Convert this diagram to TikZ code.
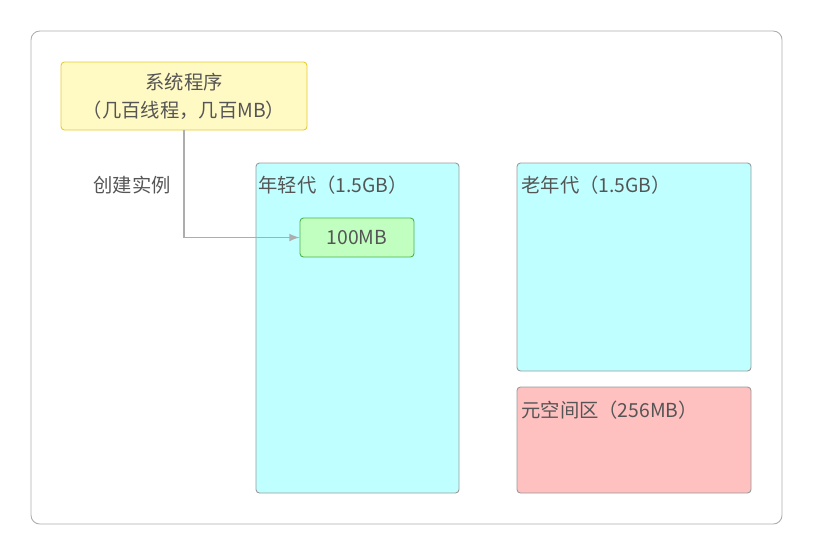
\documentclass[tikz,border=0pt]{standalone}
\usepackage{fontspec}
\setmainfont{Noto Sans CJK SC}
\usetikzlibrary{positioning,calc}
\definecolor{txtgray}{HTML}{555555}
\definecolor{linegray}{HTML}{999999}
\definecolor{aqua}{HTML}{C0FFFF}
\definecolor{pinkred}{HTML}{FFC0C0}
\definecolor{lightgreen}{HTML}{C0FFC0}
\definecolor{lightyellow}{HTML}{FFF9C4}
\tikzset{
  area/.style={draw=linegray,rounded corners=2pt,line width=0.5pt},
  lbl/.style={anchor=west,text=txtgray,font=\fontsize{11}{13}\selectfont,inner sep=0pt}
}
\begin{document}
\begin{tikzpicture}[x=0.02cm,y=-0.02cm]
\useasboundingbox (0,0) rectangle (813,555);
% frame
\draw[draw=linegray!80,rounded corners=5pt,line width=0.5pt] (31,31) rectangle (782,524);
% system program
\draw[area,fill=lightyellow,draw=yellow!60!brown] (61,62) rectangle (307,130);
\node[text=txtgray,font=\fontsize{11}{16}\selectfont,align=center] (sys) at (184,96) {系统程序\\（几百线程，几百MB）};
\coordinate (sysb) at (184,130);
% regions
\draw[area,fill=aqua] (256,163) rectangle (459,493);
\node[lbl] (young) at (258,185) {年轻代（1.5GB）};
\draw[area,fill=aqua] (517,163) rectangle (751,371);
\node[lbl] (old) at (521,185) {老年代（1.5GB）};
\draw[area,fill=pinkred] (517,387) rectangle (751,493);
\node[lbl] (meta) at (521,410) {元空间区（256MB）};
% instance
\node[area,fill=lightgreen,draw=green!40!gray,minimum width=114*0.02cm,minimum height=39*0.02cm,text=txtgray,font=\fontsize{11}{13}\selectfont,inner sep=0pt] (inst) at (357,237.5) {100MB};
% arrow
\draw[->,>=latex,linegray!80,line width=1pt] (sysb) |- (inst.west);
\node[text=txtgray,font=\fontsize{11}{13}\selectfont] (create) at (132,185) {创建实例};
\end{tikzpicture}
\end{document}
